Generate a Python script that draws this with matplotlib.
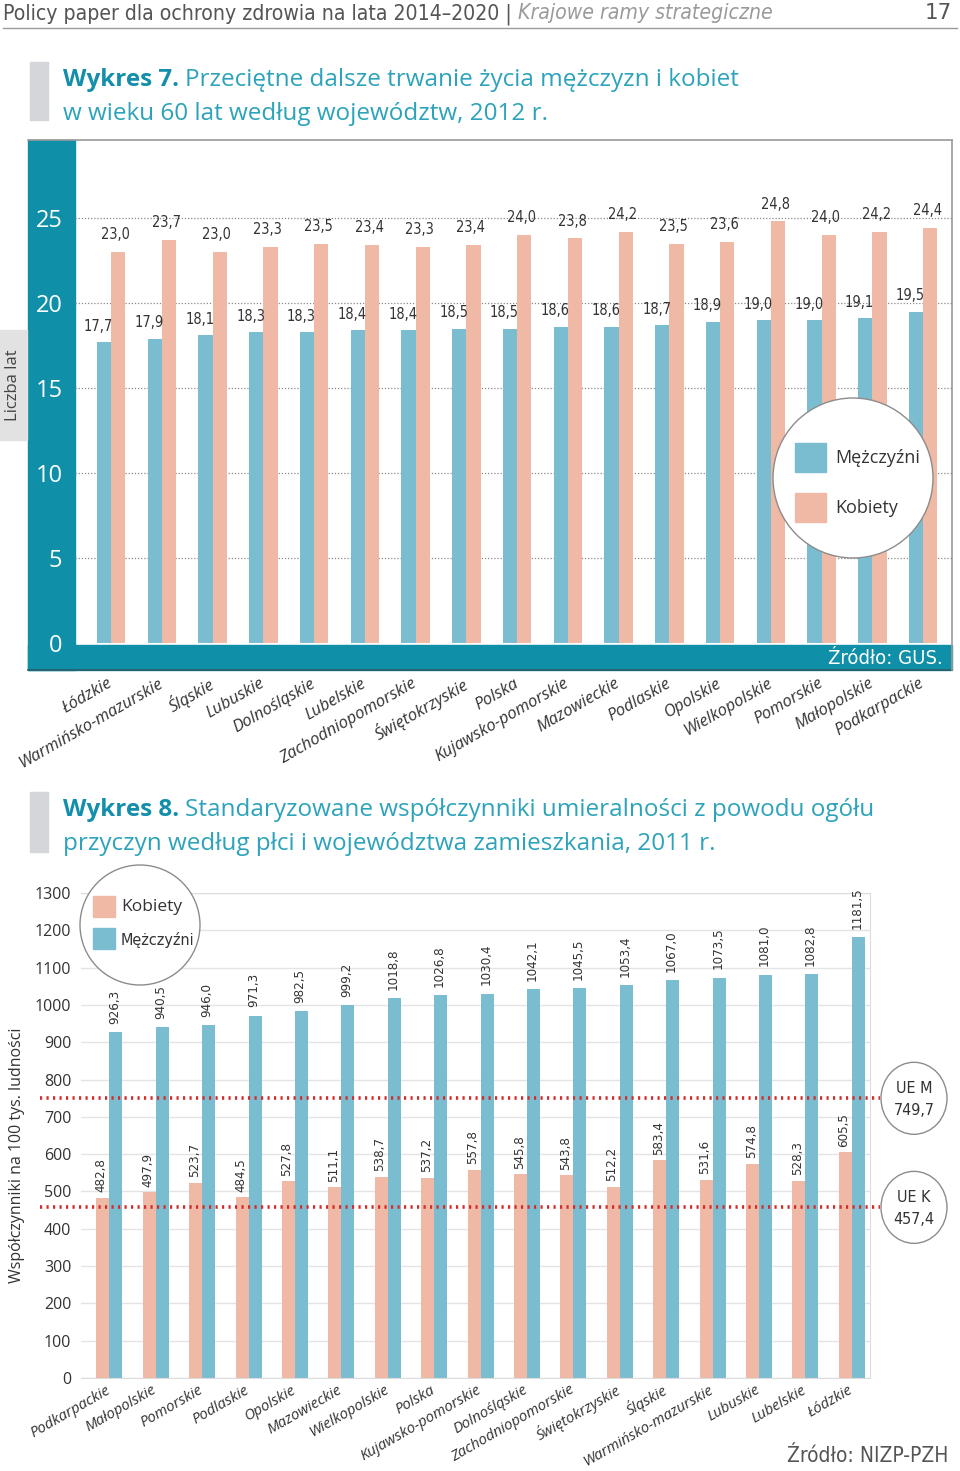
import numpy as np
import matplotlib
matplotlib.use('Agg')
import matplotlib.pyplot as plt
from matplotlib import font_manager
from matplotlib.patches import Circle, Ellipse, Rectangle

# Wykres 7 - dalsze trwanie życia w wieku 60 lat (2012)
woj7 = ['Łódzkie', 'Warmińsko-mazurskie', 'Śląskie', 'Lubuskie', 'Dolnośląskie', 'Lubelskie',
        'Zachodniopomorskie', 'Świętokrzyskie', 'Polska', 'Kujawsko-pomorskie', 'Mazowieckie',
        'Podlaskie', 'Opolskie', 'Wielkopolskie', 'Pomorskie', 'Małopolskie', 'Podkarpackie']
mezczyzni7 = [17.7, 17.9, 18.1, 18.3, 18.3, 18.4, 18.4, 18.5, 18.5, 18.6, 18.6, 18.7, 18.9,
              19.0, 19.0, 19.1, 19.5]
kobiety7 = [23.0, 23.7, 23.0, 23.3, 23.5, 23.4, 23.3, 23.4, 24.0, 23.8, 24.2, 23.5, 23.6,
            24.8, 24.0, 24.2, 24.4]
ticks7 = [0, 5, 10, 15, 20, 25]

# Wykres 8 - standaryzowane współczynniki umieralności (2011)
woj8 = ['Podkarpackie', 'Małopolskie', 'Pomorskie', 'Podlaskie', 'Opolskie', 'Mazowieckie',
        'Wielkopolskie', 'Polska', 'Kujawsko-pomorskie', 'Dolnośląskie', 'Zachodniopomorskie',
        'Świętokrzyskie', 'Śląskie', 'Warmińsko-mazurskie', 'Lubuskie', 'Lubelskie', 'Łódzkie']
kobiety8 = [482.8, 497.9, 523.7, 484.5, 527.8, 511.1, 538.7, 537.2, 557.8, 545.8, 543.8,
            512.2, 583.4, 531.6, 574.8, 528.3, 605.5]
mezczyzni8 = [926.3, 940.5, 946.0, 971.3, 982.5, 999.2, 1018.8, 1026.8, 1030.4, 1042.1,
              1045.5, 1053.4, 1067.0, 1073.5, 1081.0, 1082.8, 1181.5]
ue_m = 749.7
ue_k = 457.4

BLUE = '#7bbdd0'
SALMON = '#efb9a5'
TEAL = '#0f8fa8'
TITLE_B = '#138fab'
TITLE_L = '#2ca3ba'
SANS = ['Open Sans', 'DejaVu Sans']

# czcionka wąska, jeśli jest
names = {f.name for f in font_manager.fontManager.ttflist}
if 'Liberation Sans Narrow' in names:
    NARROW = ['Liberation Sans Narrow', 'DejaVu Sans']
    NSTRETCH = 'normal'
    NSCALE = 1.0
elif any(f.name == 'DejaVu Sans' and f.stretch == 'condensed' for f in font_manager.fontManager.ttflist):
    NARROW = ['DejaVu Sans']
    NSTRETCH = 'condensed'
    NSCALE = 0.95
else:
    NARROW = SANS
    NSTRETCH = 'normal'
    NSCALE = 0.92

W, H = 960, 1471
fig = plt.figure(figsize=(W / 100, H / 100), dpi=100)


def fax(l, t, r, b):
    return [l / W, 1 - b / H, (r - l) / W, (b - t) / H]


def fmt(v):
    return f'{v:.1f}'.replace('.', ',')


def pix_axes(z):
    a = fig.add_axes([0, 0, 1, 1], zorder=z)
    a.set_xlim(0, W)
    a.set_ylim(H, 0)
    a.axis('off')
    return a


# tło (pasy) pod wykresami, nakładka na teksty
bg = pix_axes(0)
ov = pix_axes(10)
rend = fig.canvas.get_renderer()


def mixed(x, y, parts, size, gap=0):
    for txt, kw in parts:
        t = ov.text(x, y, txt, fontsize=size, va='baseline', **kw)
        x += t.get_window_extent(renderer=rend).width + gap


# nagłówek strony
mixed(3, 19, [('Policy paper dla ochrony zdrowia na lata 2014–2020 | ',
               dict(color='#555555', family=NARROW, stretch=NSTRETCH)),
              ('Krajowe ramy strategiczne',
               dict(color='#9a9a9a', family=NARROW, stretch=NSTRETCH, style='italic'))], 16 * NSCALE)
ov.text(952, 19, '17', fontsize=15.5, color='#555555', family=NARROW, ha='right', va='baseline')
ov.plot([3, 957], [28, 28], color='#9a9a9a', lw=1)

# tytuł wykresu 7
ov.add_patch(Rectangle((30, 62), 18, 58, color='#d4d6d9'))
mixed(63, 86, [('Wykres 7.', dict(color=TITLE_B, family=SANS, weight='bold')),
               ('Przeciętne dalsze trwanie życia mężczyzn i kobiet', dict(color=TITLE_L, family=SANS))],
      17.5, gap=6)
ov.text(63, 120, 'w wieku 60 lat według województw, 2012 r.', fontsize=17.5, color=TITLE_L,
        family=SANS, va='baseline')

# ---------------- Wykres 7 ----------------
ax1 = fig.add_axes(fax(75, 140, 952, 645), zorder=2)
ax1.patch.set_visible(False)
x7 = np.arange(len(woj7))
w = 0.28
ax1.bar(x7 - w / 2, mezczyzni7, w, color=BLUE, zorder=2)
ax1.bar(x7 + w / 2, kobiety7, w, color=SALMON, zorder=2)
for i in x7:
    ax1.annotate(fmt(mezczyzni7[i]), (i - w / 2, mezczyzni7[i]), xytext=(-4, 6),
                 textcoords='offset points', ha='center', va='bottom', fontsize=11 * NSCALE,
                 family=NARROW, stretch=NSTRETCH, color='#333333')
    ax1.annotate(fmt(kobiety7[i]), (i + w / 2, kobiety7[i]), xytext=(-2, 7),
                 textcoords='offset points', ha='center', va='bottom', fontsize=11 * NSCALE,
                 family=NARROW, stretch=NSTRETCH, color='#333333')
for t in ticks7[1:]:
    ax1.axhline(t, color='#8a8a8a', lw=0.9, ls=(0, (1, 1.5)), zorder=1)
ax1.set_xlim(-0.71, len(woj7) - 0.43)
ax1.set_ylim(-0.12, 29.59)
ax1.set_yticks(ticks7)
ax1.set_yticklabels([str(t) for t in ticks7], fontsize=17, color='white', family=SANS)
ax1.set_xticks(x7)
ax1.set_xticklabels(woj7, rotation=30, ha='right', va='center', rotation_mode='anchor',
                    fontsize=12, style='italic', family=SANS, color='#333333')
ax1.tick_params(axis='y', length=0, pad=9)
ax1.tick_params(axis='x', length=0, pad=27)
for s in ax1.spines.values():
    s.set_visible(False)

# ramka i pasy wykresu 7
bg.add_patch(Rectangle((28, 140), 47, 530, color=TEAL))
bg.add_patch(Rectangle((28, 645), 924, 25, color=TEAL))
bg.plot([28, 952], [670, 670], color='#2b5c66', lw=1.2)
bg.plot([28, 952], [140, 140], color='#9a9a9a', lw=1.2)
bg.plot([952, 952], [140, 670], color='#9a9a9a', lw=1.2)
ov.text(943, 658, 'Źródło: GUS.', fontsize=14.5, color='white', family=NARROW, stretch=NSTRETCH,
        ha='right', va='center')
bg.add_patch(Rectangle((0, 330), 27, 110, color='#e2e2e2'))
ov.text(13, 385, 'Liczba lat', rotation=90, fontsize=12, color='#444444', family=SANS,
        ha='center', va='center')

# legenda wykresu 7
ov.add_patch(Circle((853, 478), 80, facecolor='white', edgecolor='#8c8c8c', lw=1))
ov.add_patch(Rectangle((795, 443), 31, 29, color=BLUE))
ov.add_patch(Rectangle((795, 493), 31, 29, color=SALMON))
ov.text(835, 458, 'Mężczyźni', fontsize=13, color='#333333', family=SANS, va='center')
ov.text(835, 508, 'Kobiety', fontsize=13, color='#333333', family=SANS, va='center')

# tytuł wykresu 8
ov.add_patch(Rectangle((30, 792), 18, 60, color='#d4d6d9'))
mixed(63, 816, [('Wykres 8.', dict(color=TITLE_B, family=SANS, weight='bold')),
                ('Standaryzowane współczynniki umieralności z powodu ogółu',
                 dict(color=TITLE_L, family=SANS))], 17.5, gap=6)
ov.text(63, 850, 'przyczyn według płci i województwa zamieszkania, 2011 r.', fontsize=17.5,
        color=TITLE_L, family=SANS, va='baseline')

# ---------------- Wykres 8 ----------------
ax2 = fig.add_axes(fax(81, 893, 870, 1378), zorder=2)
x8 = np.arange(len(woj8))
ax2.bar(x8 - w / 2, kobiety8, w, color=SALMON, zorder=2)
ax2.bar(x8 + w / 2, mezczyzni8, w, color=BLUE, zorder=2)
for i in x8:
    ax2.annotate(fmt(kobiety8[i]), (i - w / 2, kobiety8[i]), xytext=(-1, 4),
                 textcoords='offset points', ha='center', va='bottom', rotation=90,
                 fontsize=10 * NSCALE, family=NARROW, stretch=NSTRETCH, color='#333333')
    ax2.annotate(fmt(mezczyzni8[i]), (i + w / 2, mezczyzni8[i]), xytext=(-1, 6),
                 textcoords='offset points', ha='center', va='bottom', rotation=90,
                 fontsize=10 * NSCALE, family=NARROW, stretch=NSTRETCH, color='#333333')
ax2.set_xlim(-0.61, len(woj8) - 0.61)
ax2.set_ylim(0, 1300)
ax2.set_yticks(np.arange(0, 1301, 100))
ax2.set_yticklabels([str(t) for t in range(0, 1301, 100)], fontsize=11.5, color='#333333',
                    family=SANS)
ax2.yaxis.grid(True, color='#e4e4e4', lw=1, zorder=0)
ax2.set_axisbelow(True)
ax2.set_xticks(x8)
ax2.set_xticklabels(woj8, rotation=30, ha='right', va='center', rotation_mode='anchor',
                    fontsize=10.8, style='italic', family=SANS, color='#333333')
ax2.tick_params(axis='y', length=0, pad=7)
ax2.tick_params(axis='x', length=0, pad=8)
ax2.spines['left'].set_visible(False)
for s in ['top', 'right', 'bottom']:
    ax2.spines[s].set_color('#dcdcdc')

# linie średnich UE
for v in (ue_m, ue_k):
    ax2.plot([-0.052, 1.013], [v, v], transform=ax2.get_yaxis_transform(), clip_on=False,
             color='#d42a2a', lw=2.6, ls=(0, (0.6, 1.2)), zorder=3)

# kółka z wartościami UE
for lab, v in (('UE M', ue_m), ('UE K', ue_k)):
    yp = H - ax2.transData.transform((0, v))[1]
    ov.add_patch(Ellipse((914, yp), 66, 72, facecolor='white', edgecolor='#8c8c8c', lw=1))
    ov.text(914, yp - 10, lab, fontsize=11.5, color='#333333', family=NARROW, stretch=NSTRETCH,
            ha='center', va='center')
    ov.text(914, yp + 12, fmt(v), fontsize=11.5, color='#333333', family=NARROW, stretch=NSTRETCH,
            ha='center', va='center')

# legenda wykresu 8
ov.add_patch(Circle((140, 925), 60, facecolor='white', edgecolor='#8c8c8c', lw=1))
ov.add_patch(Rectangle((93, 896), 22, 21, color=SALMON))
ov.add_patch(Rectangle((93, 928), 22, 21, color=BLUE))
ov.text(121, 907, 'Kobiety', fontsize=12.5, color='#333333', family=SANS, va='center')
ov.text(121, 940, 'Mężczyźni', fontsize=11.5, color='#333333', family=NARROW, stretch=NSTRETCH,
        va='center')

ov.text(17, 1155, 'Współczynniki na 100 tys. ludności', rotation=90, fontsize=11.5,
        color='#333333', family=SANS, ha='center', va='center')
ov.text(948, 1456, 'Źródło: NIZP-PZH', fontsize=15, color='#555555', family=NARROW,
        stretch=NSTRETCH, ha='right', va='center')

fig.savefig('out.png', dpi=100)
